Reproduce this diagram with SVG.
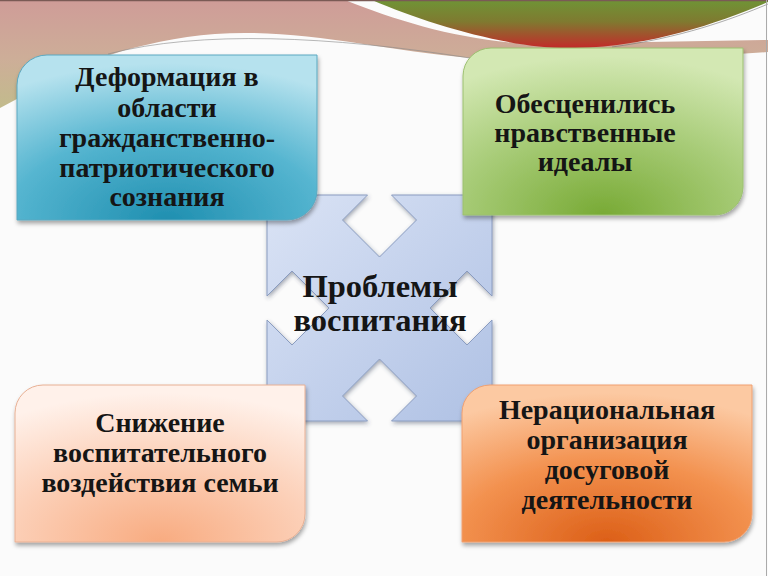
<svg xmlns="http://www.w3.org/2000/svg" width="768" height="576" viewBox="0 0 768 576">
  <defs>
    <style>
      .t { font-family: "Liberation Serif", "DejaVu Serif", serif; font-weight: bold; font-size: 28px; fill: #151515; text-anchor: middle; }
      .tc { font-size: 32.5px; }
      .box { filter: url(#sh); }
      .edge { fill: none; stroke-width: 1; }
    </style>
    <filter id="sh" x="-10%" y="-10%" width="125%" height="130%">
      <feDropShadow dx="1" dy="3" stdDeviation="2" flood-color="#000" flood-opacity="0.35"/>
    </filter>
    <filter id="sh2" x="-10%" y="-10%" width="125%" height="125%">
      <feDropShadow dx="1" dy="2" stdDeviation="2" flood-color="#33405a" flood-opacity="0.45"/>
    </filter>
    <linearGradient id="band" x1="0" y1="0" x2="0" y2="1">
      <stop offset="0" stop-color="#cf9c98"/>
      <stop offset="0.55" stop-color="#cdae98"/>
      <stop offset="1" stop-color="#c2bb8c"/>
    </linearGradient>
    <linearGradient id="swoosh" x1="0" y1="0" x2="0" y2="1">
      <stop offset="0" stop-color="#6f9436"/>
      <stop offset="0.45" stop-color="#7f7a30"/>
      <stop offset="1" stop-color="#c42a2a"/>
    </linearGradient>
    <linearGradient id="cent" x1="0" y1="0" x2="1" y2="1">
      <stop offset="0" stop-color="#dae3f5"/>
      <stop offset="1" stop-color="#afc1e4"/>
    </linearGradient>
    <radialGradient id="gBlue" cx="0.5" cy="1" r="0.95">
      <stop offset="0" stop-color="#1f8fb0"/>
      <stop offset="0.55" stop-color="#55b5d0"/>
      <stop offset="1" stop-color="#b6e2ee"/>
    </radialGradient>
    <radialGradient id="gGreen" cx="0.5" cy="1" r="0.95">
      <stop offset="0" stop-color="#78aa35"/>
      <stop offset="0.55" stop-color="#a8cc78"/>
      <stop offset="1" stop-color="#d3e8b3"/>
    </radialGradient>
    <radialGradient id="gPeach" cx="0.5" cy="1" r="0.95">
      <stop offset="0" stop-color="#f8ab80"/>
      <stop offset="0.55" stop-color="#fcd0b8"/>
      <stop offset="1" stop-color="#fff1ea"/>
    </radialGradient>
    <radialGradient id="gOrange" cx="0.5" cy="1" r="0.95">
      <stop offset="0" stop-color="#dc5f17"/>
      <stop offset="0.55" stop-color="#f39250"/>
      <stop offset="1" stop-color="#fcc9a2"/>
    </radialGradient>
  </defs>

  <rect x="0" y="0" width="768" height="576" fill="#fbfbfb"/>

  <g id="background-decor">
    <path d="M0,0 L345,0 C400,22 460,40 530,44 L768,40 L768,52 C660,60 560,64 470,58 C380,50 300,28 215,34 C140,40 70,65 30,92 L0,108 Z" fill="url(#band)"/>
    <path d="M372,0 C430,25 515,50 575,48 C655,46 720,22 768,2 L768,0 Z" fill="url(#swoosh)"/>
    <path d="M108,54 C200,30 330,36 470,58" class="edge" stroke="#888" stroke-opacity="0.6"/>
    <path d="M612,47 C680,38 730,20 768,4" class="edge" stroke="#777" stroke-opacity="0.6"/>
    <line x1="0" y1="0.5" x2="768" y2="0.5" stroke="#7a5a55" stroke-width="1.5"/>
    <line x1="766.5" y1="0" x2="766.5" y2="576" stroke="#aaa" stroke-width="1"/>
  </g>

  <g id="center">
    <path d="M267,195 L367.5,195 L342.5,220 L379.5,257 L416.5,220 L391.5,195 L492,195 L492,296 L467,271 L430,308 L467,345 L492,320 L492,421 L391.5,421 L416.5,396 L379.5,359 L342.5,396 L367.5,421 L267,421 L267,320 L292,345 L329,308 L292,271 L267,296 Z" fill="url(#cent)" stroke="#8a9cc0" stroke-width="1" filter="url(#sh2)"/>
    <text class="t tc" x="380" y="297">Проблемы</text>
    <text class="t tc" x="380" y="331">воспитания</text>
  </g>

  <g id="box-tl">
    <path class="box" d="M17,85 A30,30 0 0 1 47,55 L317,55 L317,190 A30,30 0 0 1 287,220 L17,220 Z" fill="url(#gBlue)" stroke="#5aa8c0" stroke-width="1"/>
    <text class="t" x="167" y="86">Деформация в</text>
    <text class="t" x="167" y="117">области</text>
    <text class="t" x="167" y="147">гражданственно-</text>
    <text class="t" x="167" y="177">патриотического</text>
    <text class="t" x="167" y="206">сознания</text>
  </g>

  <g id="box-tr">
    <path class="box" d="M463,76 A28,28 0 0 1 491,48 L743,48 L743,187 A28,28 0 0 1 715,215 L463,215 Z" fill="url(#gGreen)" stroke="#9cc070" stroke-width="1"/>
    <text class="t" x="585" y="113">Обесценились</text>
    <text class="t" x="585" y="142">нравственные</text>
    <text class="t" x="585" y="171">идеалы</text>
  </g>

  <g id="box-bl">
    <path class="box" d="M15,413 A28,28 0 0 1 43,385 L305,385 L305,514 A28,28 0 0 1 277,542 L15,542 Z" fill="url(#gPeach)" stroke="#e8b094" stroke-width="1"/>
    <text class="t" x="160" y="432">Снижение</text>
    <text class="t" x="160" y="462">воспитательного</text>
    <text class="t" x="160" y="492">воздействия семьи</text>
  </g>

  <g id="box-br">
    <path class="box" d="M462,413 A28,28 0 0 1 490,385 L752,385 L752,514 A28,28 0 0 1 724,542 L462,542 Z" fill="url(#gOrange)" stroke="#f0a070" stroke-width="1"/>
    <text class="t" x="607" y="419">Нерациональная</text>
    <text class="t" x="607" y="449">организация</text>
    <text class="t" x="607" y="479">досуговой</text>
    <text class="t" x="607" y="509">деятельности</text>
  </g>
</svg>
